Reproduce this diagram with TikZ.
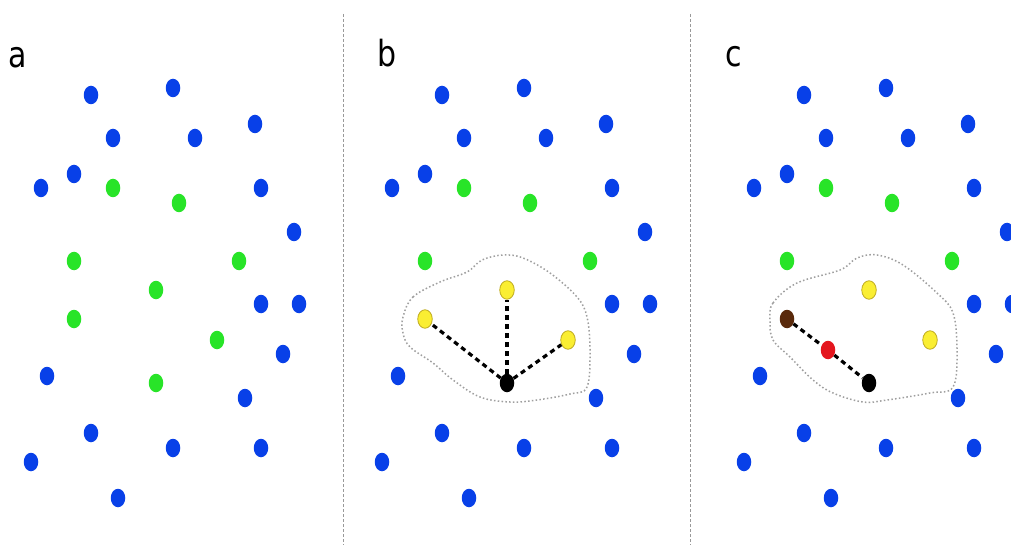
\documentclass[tikz,border=0pt]{standalone}
\usepackage{fontspec}
\newfontfamily\labelfont{DejaVu Sans}
\usetikzlibrary{shapes.geometric}
\definecolor{dotblue}{RGB}{8,64,232}
\definecolor{dotgreen}{RGB}{40,228,40}
\definecolor{dotyellow}{RGB}{250,238,50}
\definecolor{dotyellowedge}{RGB}{190,170,30}
\definecolor{dotbrown}{RGB}{90,42,12}
\definecolor{dotred}{RGB}{228,22,30}
\tikzset{
  dot/.style={ellipse, minimum width=14.5pt, minimum height=18.5pt, inner sep=0pt},
  bdot/.style={dot, fill=dotblue},
  gdot/.style={dot, fill=dotgreen},
  ydot/.style={dot, fill=dotyellow, draw=dotyellowedge, line width=0.8pt},
  kdot/.style={dot, fill=black},
  brdot/.style={dot, fill=dotbrown},
  rdot/.style={dot, fill=dotred},
  conn/.style={black, line width=3.2pt, dash pattern=on 5pt off 4pt},
  region/.style={gray!75, line width=1.5pt, dash pattern=on 1.5pt off 2.3pt},
  divider/.style={gray!80, line width=0.8pt, dash pattern=on 3pt off 2pt},
  panellabel/.style={anchor=base west, inner sep=0pt, font=\labelfont\fontsize{30}{36}\selectfont}
}
\begin{document}
\begin{tikzpicture}[x=1pt,y=-1pt]
\useasboundingbox (0,0) rectangle (1011,545);
\clip (0,0) rectangle (1011,545);
\fill[white] (0,0) rectangle (1011,545);
% dividers
\coordinate (d1t) at (343,14); \coordinate (d1b) at (343,545);
\coordinate (d2t) at (690,14); \coordinate (d2b) at (690,545);
\draw[divider] (d1t) -- (d1b);
\draw[divider] (d2t) -- (d2b);
% labels
\node[panellabel] (la) at (8,68) {\scalebox{1}[1.2]{a}};
\node[panellabel] (lb) at (377,67) {\scalebox{1}[1.2]{b}};
\node[panellabel] (lc) at (725,67) {\scalebox{1}[1.2]{c}};
% blue dots in all panels
\foreach \s/\p in {0/a,351/b,713/c}{
  \begin{scope}[xshift=\s pt]
  \foreach \x/\y [count=\i] in {91/95,173/88,113/138,195/138,255/124,41/188,74/174,261/188,294/232,261/304,299/304,283/354,47/376,245/398,91/433,173/448,261/448,31/462,118/498}
    \node[bdot] (\p-b\i) at (\x,\y) {};
  \foreach \x/\y [count=\i] in {113/188,179/203,74/261,239/261}
    \node[gdot] (\p-g\i) at (\x,\y) {};
  \end{scope}
}
% panel a: remaining green dots
\foreach \x/\y [count=\i from 5] in {156/290,74/319,217/340,156/383}
  \node[gdot] (a-g\i) at (\x,\y) {};
% panel b
\draw[region] plot[smooth cycle, tension=0.6] coordinates {(403,317) (413,297) (440,282) (467,272) (482,260) (503,255) (523,258) (550,273) (577,297) (587,317) (590,350) (587,387) (570,394) (537,400) (510,402) (480,397) (453,380) (433,363) (410,347) (403,333)};
\node[ydot] (b-y1) at (507,290) {};
\node[ydot] (b-y2) at (425,319) {};
\node[ydot] (b-y3) at (568,340) {};
\node[kdot] (b-k) at (507,383) {};
\draw[conn] (b-k) -- (b-y1);
\draw[conn] (b-k) -- (b-y2);
\draw[conn] (b-k) -- (b-y3);
% panel c
\draw[region] plot[smooth cycle, tension=0.6] coordinates {(770,321) (773,303) (797,283) (840,270) (857,258) (877,255) (903,265) (937,293) (953,313) (957,350) (953,387) (930,393) (887,400) (863,402) (833,393) (813,380) (790,357) (773,340)};
\node[ydot] (c-y1) at (869,290) {};
\node[ydot] (c-y3) at (930,340) {};
\node[brdot] (c-br) at (787,319) {};
\node[kdot] (c-k) at (869,383) {};
\node[rdot] (c-r) at (828,350) {};
\draw[conn] (c-br) -- (c-r);
\draw[conn] (c-r) -- (c-k);
\end{tikzpicture}
\end{document}
